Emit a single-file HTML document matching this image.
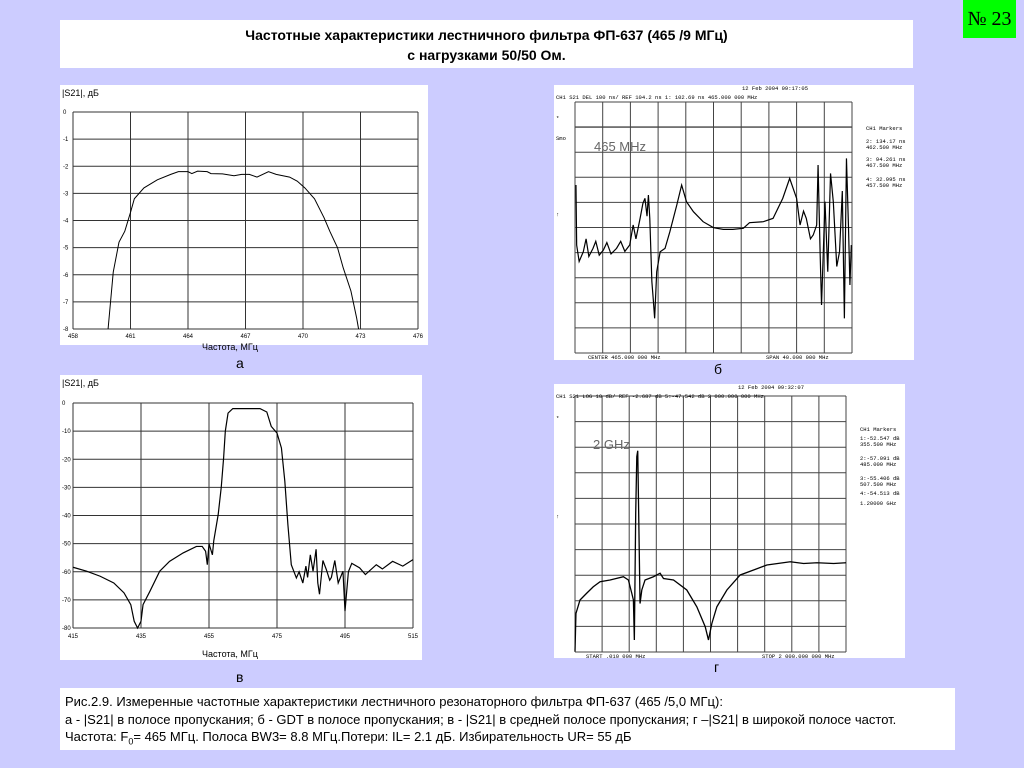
<!DOCTYPE html>
<html><head><meta charset="utf-8">
<style>
body{margin:0;width:1024px;height:768px;background:#ccccff;overflow:hidden;font-family:"Liberation Sans","Noto Sans CJK SC",sans-serif;}
.abs{position:absolute;}
</style></head>
<body>
<div class="abs" style="left:60px;top:20px;width:853px;height:48px;background:#fff;text-align:center;font-weight:bold;font-size:14px;line-height:20px;padding-top:5px;box-sizing:border-box;">Частотные характеристики лестничного фильтра ФП-637 (465 /9 МГц)<br>с нагрузками 50/50 Ом.</div>
<div class="abs" style="left:963px;top:0;width:53px;height:38px;background:#00ff00;font-family:'Liberation Serif',serif;font-size:20px;line-height:38px;text-align:center;">№ 23</div>
<div class="abs" style="left:60px;top:688px;width:895px;height:62px;background:#fff;font-size:13px;line-height:17.5px;padding:5px 0 0 5px;box-sizing:border-box;">Рис.2.9. Измеренные частотные характеристики лестничного резонаторного фильтра ФП-637 (465 /5,0 МГц):<br>а - |S21| в полосе пропускания; б - GDT в полосе пропускания; в - |S21| в средней полосе пропускания; г –|S21| в широкой полосе частот.<br>Частота: F<sub style="font-size:9px">0</sub>= 465 МГц. Полоса BW3= 8.8 МГц.Потери: IL= 2.1 дБ. Избирательность UR= 55 дБ</div>
<div class="abs" style="left:236px;top:355px;font-size:14px;">а</div>
<div class="abs" style="left:714px;top:361px;font-size:14px;">б</div>
<div class="abs" style="left:236px;top:669px;font-size:14px;">в</div>
<div class="abs" style="left:714px;top:659px;font-size:14px;">г</div>

<svg class="abs" style="left:0;top:0" width="1024" height="768" id="svg" xmlns="http://www.w3.org/2000/svg" font-family="Liberation Sans, sans-serif">
<rect x="60" y="85" width="368" height="260" fill="#fff"/>
<rect x="554" y="85" width="360" height="275" fill="#fff"/>
<rect x="60" y="375" width="362" height="285" fill="#fff"/>
<rect x="554" y="384" width="351" height="274" fill="#fff"/>
<g id="ga"></g><g id="gb"></g><g id="gv"></g><g id="gg"></g>
</svg>
<script>
// Chart a data
const aFreq=[459.83,460.1,460.4,460.7,461,461.2,461.7,462.4,463.1,463.5,464,464.2,464.5,465,465.2,465.8,466.4,466.8,467.2,467.6,468.2,468.6,469.3,469.7,470.1,470.6,471.1,471.4,471.8,472.1,472.5,472.8,472.9];
const aDb=[-8,-5.9,-4.8,-4.4,-3.7,-3.2,-2.8,-2.5,-2.3,-2.2,-2.2,-2.27,-2.18,-2.2,-2.27,-2.28,-2.35,-2.3,-2.3,-2.4,-2.2,-2.3,-2.4,-2.55,-2.8,-3.2,-3.9,-4.4,-5.0,-5.75,-6.6,-7.6,-8];
const aXTicks=[458,461,464,467,470,473,476];
const aYTicks=[0,-1,-2,-3,-4,-5,-6,-7,-8];
// Chart b data (GDT)
const bFreq=[445.14,445.24,445.6,446.2,446.6,447.0,447.6,448.0,448.5,449.1,449.6,450.2,451.0,451.6,452.2,452.9,453.4,453.8,454.4,454.8,455.1,455.4,455.6,455.8,456.1,456.3,456.5,456.8,457.3,458.0,458.7,459.7,460.4,461.1,462.1,463.5,465.0,466.4,467.8,469.3,470.2,472.2,473.6,475.0,476.0,477.0,477.5,478.0,478.4,479.0,479.4,479.9,480.1,480.4,480.6,481.1,481.5,481.9,482.3,482.8,483.2,483.6,483.9,484.2,484.5,484.7,484.9];
const bNs=[273.7,35.3,-30,8.8,60,-10,22.1,50,-5,15.5,45,0,22.1,50,10,35.3,114.8,60,141.3,200,220.8,150,234,141.3,-110.4,-180,-256,-70.6,8.8,22.1,88.3,194.3,273.7,207.5,167.8,128,104.2,97.6,97.6,101.6,124.1,128,141.3,220.8,300.2,220.8,114.8,170,141.3,60,75.1,114.8,353.2,0,-203,207.5,-70.6,320,207.5,-50,8.8,250,-256,379.7,100,-123.6,35.3];
// Chart v data
const vFreq=[415,419,423,427,430,432,433,434,435,435.6,437.6,440.5,443.4,447.4,451.3,453,454,454.5,455,456,456.4,457.7,458.6,459.3,459.8,460.6,462,470,472,473.3,475,476.3,477.3,478.2,479.2,480.7,481.5,482.6,483.5,484,484.8,485.6,486.5,487,487.5,488.5,489.5,490.5,491,492,493,494.4,495,496,497,499.3,501,504.2,506,509,512,515];
const vDb=[-58.4,-59.8,-61.6,-64,-67.5,-71.7,-77.6,-80,-77.6,-71.7,-67,-59.8,-56.3,-53.3,-51,-51,-52.7,-57.5,-50,-54,-49,-39.7,-30,-19.5,-10,-3.6,-2,-2,-3.2,-8.3,-10.7,-16,-27.8,-43.2,-57.5,-62.2,-60,-64,-58,-62,-54,-59.8,-52,-64,-68,-56,-59.2,-63,-62,-56,-64,-59.8,-74,-60,-57,-58.6,-61,-57.5,-59,-56.3,-58,-55.7];
const vXTicks=[415,435,455,475,495,515];
const vYTicks=[0,-10,-20,-30,-40,-50,-60,-70,-80];
// Chart g data (wideband)
const gFreq=[0,7,37,86,135,185,259,357,394,419,431,438,448,456,463,470,480,493,517,579,628,653,727,825,899,961,985,1010,1047,1121,1219,1318,1416,1589,1687,1786,1909,2000];
const gDb=[-83,-67.8,-62.4,-59.7,-57.1,-55.1,-54.4,-53.1,-54.4,-59.7,-62.4,-78.4,-27.8,-5.1,-2.7,-27.8,-63.8,-58.4,-54.4,-53.1,-51.7,-53.8,-54.4,-58.4,-65.1,-73.1,-78.4,-71.8,-65.1,-58.4,-52.4,-50.4,-48.4,-47.1,-47.8,-47.5,-47.8,-47.5];

const NS='http://www.w3.org/2000/svg';
function mk(parent,tag,attrs,txt){const e=document.createElementNS(NS,tag);for(const k in attrs)e.setAttribute(k,attrs[k]);if(txt!==undefined)e.textContent=txt;parent.appendChild(e);return e;}
function lin(d0,d1,r0,r1){return v=>r0+(v-d0)/(d1-d0)*(r1-r0);}

// ---- chart a
(function(){
const g=document.getElementById('ga');
const x=lin(458,476,73,418), y=lin(0,-8,112,329);
mk(g,'text',{x:62,y:96,'font-size':9},'|S21|, дБ');
aXTicks.forEach(t=>{const l=mk(g,'line',{x1:x(t),x2:x(t),y1:112,y2:329,stroke:'#333','stroke-width':1});

const tx=mk(g,'text',{x:x(t),y:338,'font-size':6,'text-anchor':'middle'},t);
});
aYTicks.forEach(t=>{const l=mk(g,'line',{x1:73,x2:418,y1:y(t),y2:y(t),stroke:'#333','stroke-width':1});

const tx=mk(g,'text',{x:63,y:y(t)+2,'font-size':6},t);
});
const xt=mk(g,'text',{x:230,y:350,'font-size':9,'text-anchor':'middle'},'Частота, МГц');

const p=mk(g,'polyline',{points:aFreq.map((f,i)=>x(f)+','+y(aDb[i])).join(' '),fill:'none',stroke:'#000','stroke-width':1});

})();

// ---- chart b
(function(){
const g=document.getElementById('gb');
const x=lin(445,485,575,852), y=v=>227.7-(v-104.2)*0.2517;
for(let i=0;i<=10;i++){const xx=575+i*27.7,yy=102+i*25.1;
const l1=mk(g,'line',{x1:xx,x2:xx,y1:102,y2:353,stroke:'#444','stroke-width':1});

const l2=mk(g,'line',{x1:575,x2:852,y1:yy,y2:yy,stroke:'#444','stroke-width':i==1?1.4:1});
}
const t=[[742,90,'12 Feb 2004   09:17:05'],[556,99,'CH1  S21    DEL     100 ns/ REF 104.2 ns       1: 102.69 ns     465.000 000 MHz'],[556,120,'*'],[556,140,'Smo'],[556,216,'↑'],[866,130,'CH1 Markers'],[866,143,'2: 134.17 ns'],[866,149,' 462.500 MHz'],[866,161,'3: 94.261 ns'],[866,167,' 467.500 MHz'],[866,181,'4: 32.995 ns'],[866,187,' 457.500 MHz'],[588,359,'CENTER 465.000 000 MHz'],[766,359,'SPAN  40.000 000 MHz']];
t.forEach(a=>{const e=mk(g,'text',{x:a[0],y:a[1],'font-size':5.5,'font-family':'Liberation Mono, monospace'},a[2]);
});
const big=mk(g,'text',{x:594,y:151,'font-size':13,fill:'#666'},'465 MHz');

const p=mk(g,'polyline',{points:bFreq.map((f,i)=>x(f)+','+y(bNs[i])).join(' '),fill:'none',stroke:'#000','stroke-width':1.2});

})();

// ---- chart v
(function(){
const g=document.getElementById('gv');
const x=lin(415,515,73,413), y=lin(0,-80,403,628);
mk(g,'text',{x:62,y:386,'font-size':9},'|S21|, дБ');
vXTicks.forEach(t=>{const l=mk(g,'line',{x1:x(t),x2:x(t),y1:403,y2:628,stroke:'#333','stroke-width':1});

const tx=mk(g,'text',{x:x(t),y:638,'font-size':6,'text-anchor':'middle'},t);
});
vYTicks.forEach(t=>{const l=mk(g,'line',{x1:73,x2:413,y1:y(t),y2:y(t),stroke:'#333','stroke-width':1});

const tx=mk(g,'text',{x:62,y:y(t)+2,'font-size':6},t);
});
const xt=mk(g,'text',{x:230,y:657,'font-size':9,'text-anchor':'middle'},'Частота, МГц');

const p=mk(g,'polyline',{points:vFreq.map((f,i)=>x(f)+','+y(vDb[i])).join(' '),fill:'none',stroke:'#000','stroke-width':1.2});

})();

// ---- chart g
(function(){
const g=document.getElementById('gg');
const x=lin(0,2000,575,846), y=v=>450.7-(v+2.687)*2.5;
for(let i=0;i<=10;i++){const xx=575+i*27.1,yy=396+i*25.6;
const l1=mk(g,'line',{x1:xx,x2:xx,y1:396,y2:652,stroke:'#444','stroke-width':1});

const l2=mk(g,'line',{x1:575,x2:846,y1:yy,y2:yy,stroke:'#444','stroke-width':1});
}
const t=[[738,389,'12 Feb 2004   09:32:07'],[556,398,'CH1  S21    LOG     10 dB/ REF -2.687 dB       5:-47.542 dB   2 000.000 000 MHz'],[556,420,'*'],[556,518,'↑'],[860,431,'CH1 Markers'],[860,440,'1:-52.547 dB'],[860,446,' 355.500 MHz'],[860,460,'2:-57.091 dB'],[860,466,' 485.000 MHz'],[860,480,'3:-55.406 dB'],[860,486,' 507.500 MHz'],[860,495,'4:-54.513 dB'],[860,505,' 1.20000 GHz'],[586,658,'START  .010 000 MHz'],[762,658,'STOP 2 000.000 000 MHz']];
t.forEach(a=>{const e=mk(g,'text',{x:a[0],y:a[1],'font-size':5.5,'font-family':'Liberation Mono, monospace'},a[2]);
});
const big=mk(g,'text',{x:593,y:449,'font-size':13,fill:'#666'},'2 GHz');

const p=mk(g,'polyline',{points:gFreq.map((f,i)=>x(f)+','+y(gDb[i])).join(' '),fill:'none',stroke:'#000','stroke-width':1.3});

})();
</script>
</body></html>
